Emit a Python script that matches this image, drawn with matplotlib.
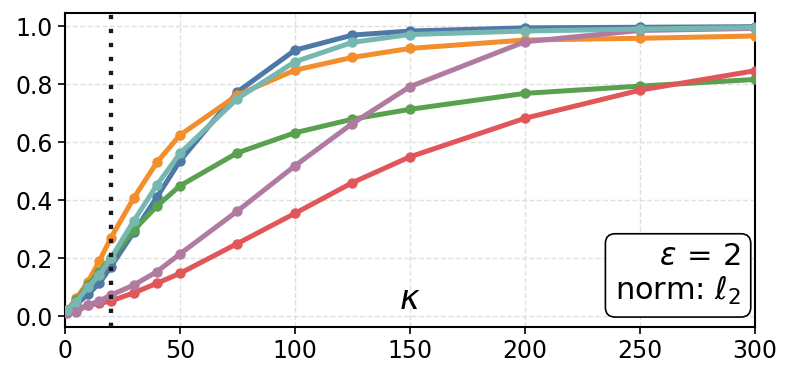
import matplotlib
matplotlib.use("Agg")
import matplotlib.pyplot as plt

kappa = [1, 5, 10, 15, 20, 30, 40, 50, 75, 100, 125, 150, 200, 250, 300]

blue   = [0.02, 0.04, 0.075, 0.113, 0.17, 0.29, 0.41, 0.535, 0.773, 0.917, 0.969, 0.983, 0.994, 0.996, 0.998]
orange = [0.02, 0.061, 0.118, 0.19, 0.27, 0.408, 0.53, 0.624, 0.762, 0.848, 0.892, 0.923, 0.952, 0.958, 0.966]
green  = [0.02, 0.055, 0.107, 0.153, 0.199, 0.297, 0.379, 0.449, 0.563, 0.632, 0.679, 0.713, 0.768, 0.793, 0.816]
red    = [0.013, 0.02, 0.038, 0.044, 0.052, 0.08, 0.113, 0.147, 0.25, 0.354, 0.46, 0.549, 0.682, 0.779, 0.846]
purple = [0.01, 0.015, 0.038, 0.052, 0.072, 0.107, 0.153, 0.214, 0.362, 0.518, 0.664, 0.791, 0.946, 0.985, 0.992]
teal   = [0.02, 0.05, 0.10, 0.141, 0.199, 0.329, 0.452, 0.561, 0.75, 0.877, 0.944, 0.971, 0.983, 0.99, 0.995]

series = [
    (blue, "#4e79a7"),
    (orange, "#f28e2b"),
    (green, "#59a14f"),
    (red, "#e15759"),
    (purple, "#b07aa1"),
    (teal, "#76b7b2"),
]

kappa_star = 20

fig, ax = plt.subplots(figsize=(7.92, 3.76), dpi=100)
fig.subplots_adjust(left=0.082, right=0.953, top=0.966, bottom=0.131)

for vals, col in series:
    ax.plot(kappa, vals, color=col, lw=3.6, marker="o", ms=6.5, zorder=3)

ax.axvline(kappa_star, color="#1a1a1a", ls=(0, (1, 2.25)), lw=3.1, zorder=4)

ax.set_xlim(0, 300)
ax.set_ylim(-0.037, 1.046)
ax.set_xticks([0, 50, 100, 150, 200, 250, 300])
ax.set_yticks([0.0, 0.2, 0.4, 0.6, 0.8, 1.0])
ax.tick_params(labelsize=17, length=5, width=1.2)
ax.grid(True, ls="--", color="#e0e0e0", lw=1)
for s in ax.spines.values():
    s.set_linewidth(1.5)

ax.text(0.5, 0.035, r"$\kappa$", transform=ax.transAxes, ha="center", va="bottom", fontsize=24)

ax.text(0.98, 0.062, "$\\varepsilon \\,=\\, 2$\nnorm: $\\ell_2$", transform=ax.transAxes,
        ha="right", va="bottom", fontsize=22, multialignment="right", zorder=5,
        linespacing=1.15,
        bbox=dict(boxstyle="round,pad=0.32", fc="white", ec="black", lw=1.2))

fig.savefig("out.png", dpi=100)
